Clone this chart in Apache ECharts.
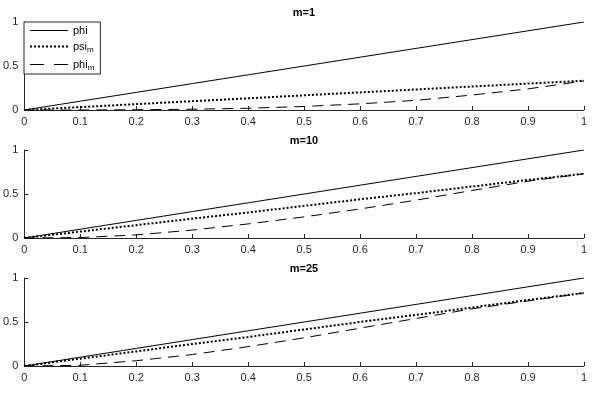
<!DOCTYPE html>
<html>
<head>
<meta charset="utf-8">
<script src="https://cdn.jsdelivr.net/npm/echarts@6/dist/echarts.min.js"></script>
<style>
html,body{margin:0;padding:0;background:#fff;}
#c{width:593px;height:401px;}
</style>
</head>
<body>
<div id="c"></div>
<script>
// ---- data ----
var xs = [0, 0.1, 0.2, 0.3, 0.4, 0.5, 0.6, 0.7, 0.8, 0.9, 1];
var titles = ['m=1', 'm=10', 'm=25'];
var phi    = [0, 0.1, 0.2, 0.3, 0.4, 0.5, 0.6, 0.7, 0.8, 0.9, 1];
var psi1   = [0, 0.033, 0.067, 0.10, 0.133, 0.167, 0.20, 0.233, 0.267, 0.30, 0.333];
var phim1  = [0, 0.0, 0.003, 0.009, 0.02, 0.04, 0.07, 0.11, 0.17, 0.24, 0.33];
var psi10  = [0, 0.073, 0.146, 0.22, 0.29, 0.365, 0.44, 0.51, 0.585, 0.66, 0.73];
var phim10 = [0, 0.005, 0.035, 0.09, 0.16, 0.24, 0.33, 0.43, 0.54, 0.645, 0.73];
var psi25  = [0, 0.083, 0.166, 0.25, 0.33, 0.415, 0.5, 0.58, 0.665, 0.75, 0.83];
var phim25 = [0, 0.008, 0.06, 0.13, 0.22, 0.32, 0.43, 0.54, 0.65, 0.74, 0.83];
var yTicks = [0, 0.5, 1];
var xTicks = [0, 0.1, 0.2, 0.3, 0.4, 0.5, 0.6, 0.7, 0.8, 0.9, 1];

var psiSets = [psi1, psi10, psi25];
var phimSets = [phim1, phim10, phim25];

function pairs(vals) {
  return xs.map(function (x, i) { return [x, vals[i]]; });
}

var FONT = '"Liberation Sans", Arial, Helvetica, sans-serif';
var AX = '#262626';
var tops = [22, 150, 278];
var styles = {
  phi:   {color: '#000', width: 1, type: 'solid'},
  psi_m: {color: '#000', width: 2, type: [2, 2]},
  phi_m: {color: '#000', width: 1, type: [11, 7]}
};
var legendStyles = {
  phi:   {color: '#000', width: 1, type: 'solid'},
  psi_m: {color: '#000', width: 2, type: [2, 2]},
  phi_m: {color: '#000', width: 1, type: [14, 10]}
};
var grids = [], xAxes = [], yAxes = [], series = [], graphics = [];

tops.forEach(function (t, g) {
  grids.push({left: 24, right: 9, top: t, height: 88, containLabel: false});
  xAxes.push({
    type: 'value', gridIndex: g, min: 0, max: 1, interval: 0.1,
    axisLine: {show: true, lineStyle: {color: AX, width: 1}},
    axisTick: {show: true, inside: true, length: 4, lineStyle: {color: AX}},
    axisLabel: {color: AX, fontSize: 11, fontFamily: FONT, margin: 6,
      formatter: function (v) { return String(Math.round(v * 10) / 10); }},
    splitLine: {show: false}
  });
  yAxes.push({
    type: 'value', gridIndex: g, min: 0, max: 1, interval: 0.5,
    axisLine: {show: true, lineStyle: {color: AX, width: 1}},
    axisTick: {show: true, inside: true, length: 4, lineStyle: {color: AX}},
    axisLabel: {color: AX, fontSize: 11, fontFamily: FONT, margin: 6},
    splitLine: {show: false}
  });
  [['phi', phi], ['psi_m', psiSets[g]], ['phi_m', phimSets[g]]].forEach(function (s) {
    series.push({
      name: s[0], type: 'line', xAxisIndex: g, yAxisIndex: g, data: pairs(s[1]),
      symbol: 'none', silent: true, animation: false,
      lineStyle: styles[s[0]], itemStyle: {color: '#000'}
    });
  });
  graphics.push({
    type: 'text', x: 304, y: t - 9,
    style: {text: titles[g], font: 'bold 11px ' + FONT, fill: '#000',
      textAlign: 'center', textVerticalAlign: 'middle'}
  });
});

var chart = echarts.init(document.getElementById('c'), null, {renderer: 'canvas'});
chart.setOption({
  animation: false,
  backgroundColor: '#fff',
  grid: grids,
  xAxis: xAxes,
  yAxis: yAxes,
  series: series,
  graphic: graphics,
  legend: {
    data: ['phi', 'psi_m', 'phi_m'].map(function (n) {
      return {name: n, lineStyle: legendStyles[n], itemStyle: {opacity: 0}};
    }),
    left: 24, top: 22, orient: 'vertical',
    itemWidth: 38, itemHeight: 10, itemGap: 5,
    padding: [3, 6, 2, 5],
    borderColor: AX, borderWidth: 1, backgroundColor: '#fff',
    selectedMode: false,
    itemStyle: {opacity: 0},
    formatter: function (n) {
      if (n === 'phi') return '{n|phi}';
      var p = n.split('_');
      return '{n|' + p[0] + '}{s|' + p[1] + '}';
    },
    textStyle: {
      fontFamily: FONT, fontSize: 11, color: '#000',
      rich: {
        n: {fontSize: 11, fontFamily: FONT, color: '#000'},
        s: {fontSize: 8, fontFamily: FONT, color: '#000', padding: [7, 0, 0, 0]}
      }
    }
  }
});
</script>
</body>
</html>
